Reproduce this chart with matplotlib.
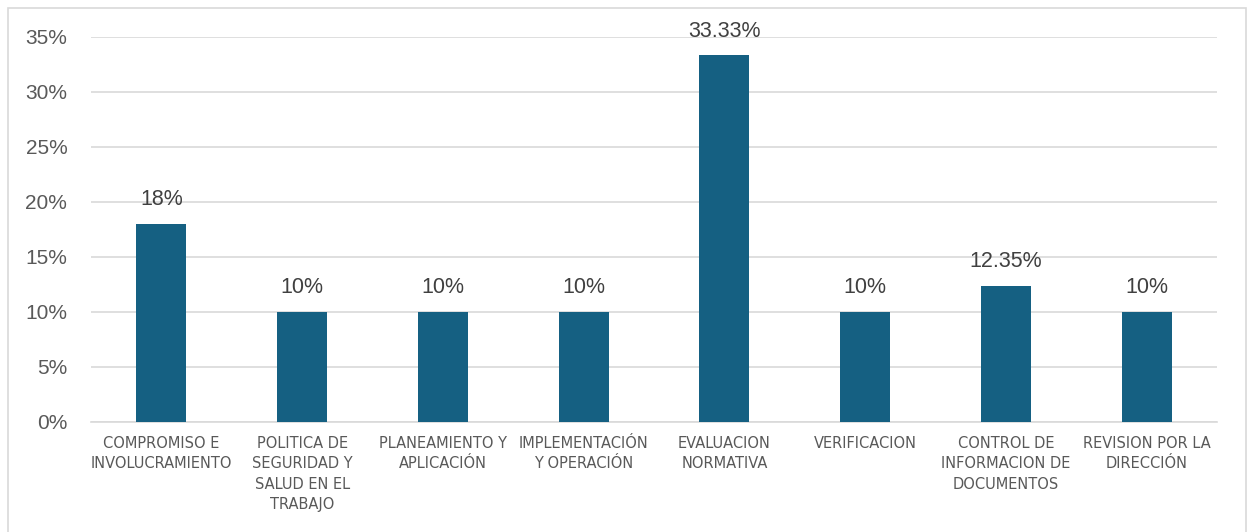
import matplotlib
matplotlib.use("Agg")
import matplotlib.pyplot as plt
from matplotlib.patches import Rectangle
from matplotlib.ticker import PercentFormatter

categories = [
    "COMPROMISO E\nINVOLUCRAMIENTO",
    "POLITICA DE\nSEGURIDAD Y\nSALUD EN EL\nTRABAJO",
    "PLANEAMIENTO Y\nAPLICACIÓN",
    "IMPLEMENTACIÓN\nY OPERACIÓN",
    "EVALUACION\nNORMATIVA",
    "VERIFICACION",
    "CONTROL DE\nINFORMACION DE\nDOCUMENTOS",
    "REVISION POR LA\nDIRECCIÓN",
]
values = [0.18, 0.10, 0.10, 0.10, 0.3333, 0.10, 0.1235, 0.10]
labels = ["18%", "10%", "10%", "10%", "33.33%", "10%", "12.35%", "10%"]

bar_color = "#156082"
label_color = "#404040"
tick_color = "#595959"

fig = plt.figure(figsize=(12.51, 5.32), dpi=100)
ax = fig.add_axes([0.0727, 0.2068, 0.9001, 0.7237])

# outer chart border
fig.patches.append(Rectangle((8 / 1251, -0.01), 1238 / 1251, 1 - 8 / 532 + 0.01,
                             transform=fig.transFigure, fill=False,
                             edgecolor="#D9D9D9", linewidth=1.2))

x = range(len(categories))
bars = ax.bar(x, values, width=0.355, color=bar_color, zorder=3)

for bar, lab in zip(bars, labels):
    ax.text(bar.get_x() + bar.get_width() / 2, bar.get_height() + 0.0125, lab,
            ha="center", va="bottom", fontsize=15.5, color=label_color,
            family="Liberation Sans")

ax.set_xlim(-0.5, len(categories) - 0.5)
ax.set_ylim(0, 0.35)
ax.set_yticks([0, 0.05, 0.10, 0.15, 0.20, 0.25, 0.30, 0.35])
ax.yaxis.set_major_formatter(PercentFormatter(1.0, decimals=0))
ax.grid(axis="y", color="#D9D9D9", linewidth=1.2, zorder=0)

for side in ["top", "right", "left"]:
    ax.spines[side].set_visible(False)
ax.spines["bottom"].set_color("#D9D9D9")
ax.spines["bottom"].set_linewidth(1.2)

ax.set_xticks(list(x))
ax.set_xticklabels(categories, fontsize=10.5, color=tick_color,
                   family="Liberation Sans Narrow", linespacing=1.45)
ax.tick_params(axis="x", length=0, pad=10)
ax.tick_params(axis="y", length=0, pad=17, labelsize=15, labelcolor=tick_color)
for t in ax.get_yticklabels():
    t.set_family("Liberation Sans")

fig.savefig("out.png", dpi=100)
